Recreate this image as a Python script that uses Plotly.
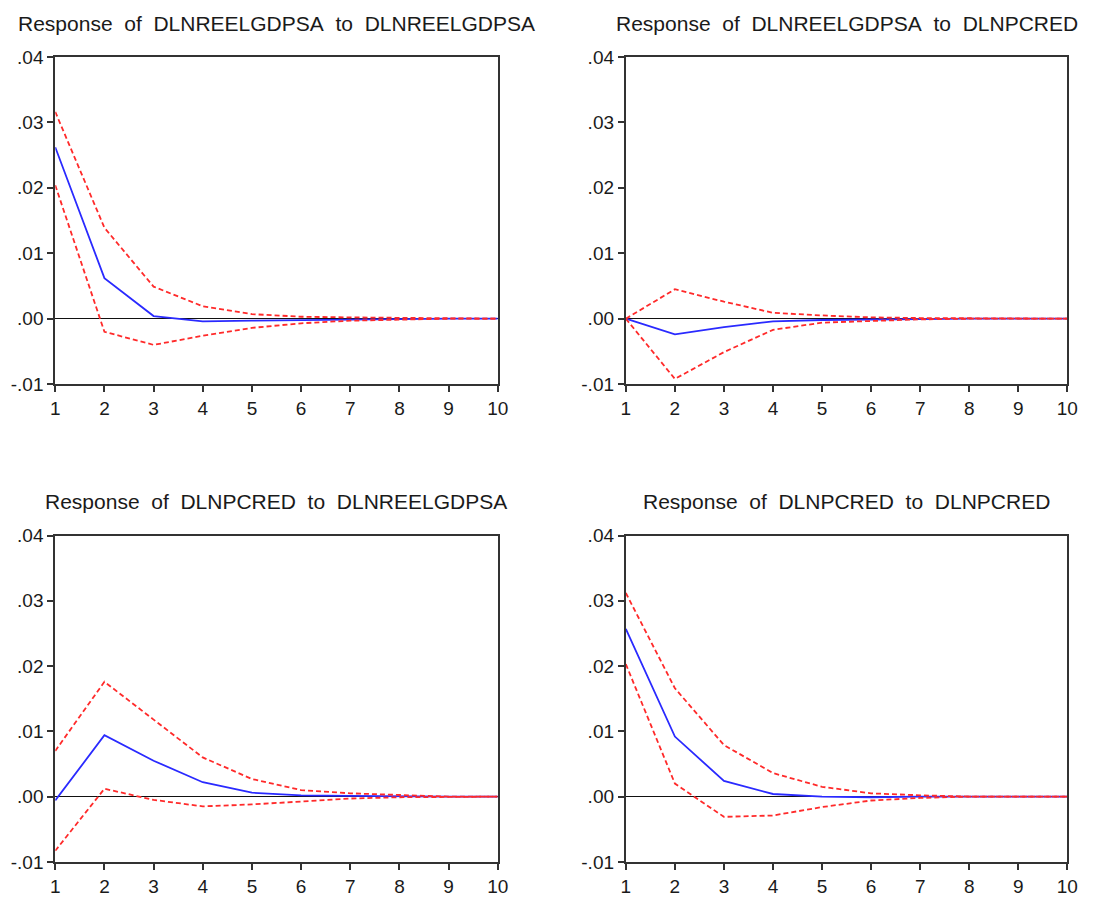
import plotly.graph_objects as go

# ---------------- data ----------------
periods = [1, 2, 3, 4, 5, 6, 7, 8, 9, 10]
x_tick_text = ["1", "2", "3", "4", "5", "6", "7", "8", "9", "10"]
y_tick_vals = [-0.01, 0.0, 0.01, 0.02, 0.03, 0.04]
y_tick_text = ["-.01", ".00", ".01", ".02", ".03", ".04"]

titles = [
    "Response of DLNREELGDPSA to DLNREELGDPSA",
    "Response of DLNREELGDPSA to DLNPCRED",
    "Response of DLNPCRED to DLNREELGDPSA",
    "Response of DLNPCRED to DLNPCRED",
]

gdp_gdp_resp = [0.0262, 0.0062, 0.0004, -0.0004, -0.0003, -0.0002, -0.0001, 0.0, 0.0, 0.0]
gdp_gdp_upper = [0.0316, 0.0139, 0.0049, 0.0019, 0.0007, 0.0003, 0.0002, 0.0001, 0.0, 0.0]
gdp_gdp_lower = [0.0204, -0.0020, -0.0040, -0.0026, -0.0014, -0.0007, -0.0003, -0.0001, 0.0, 0.0]

gdp_cred_resp = [0.0, -0.0024, -0.0013, -0.0004, -0.0002, -0.0001, 0.0, 0.0, 0.0, 0.0]
gdp_cred_upper = [0.0, 0.0045, 0.0026, 0.0009, 0.0005, 0.0002, 0.0001, 0.0001, 0.0, 0.0]
gdp_cred_lower = [0.0, -0.0092, -0.0051, -0.0017, -0.0006, -0.0003, -0.0001, 0.0, 0.0, 0.0]

cred_gdp_resp = [-0.0006, 0.0094, 0.0055, 0.0022, 0.0006, 0.0002, 0.0001, 0.0, 0.0, 0.0]
cred_gdp_upper = [0.0070, 0.0176, 0.0118, 0.0060, 0.0027, 0.0010, 0.0005, 0.0002, 0.0, 0.0]
cred_gdp_lower = [-0.0083, 0.0012, -0.0005, -0.0015, -0.0012, -0.0007, -0.0003, -0.0001, 0.0, 0.0]

cred_cred_resp = [0.0257, 0.0092, 0.0024, 0.0004, 0.0, -0.0001, 0.0, 0.0, 0.0, 0.0]
cred_cred_upper = [0.0312, 0.0166, 0.0079, 0.0036, 0.0015, 0.0005, 0.0002, 0.0, 0.0, 0.0]
cred_cred_lower = [0.0203, 0.0020, -0.0031, -0.0029, -0.0016, -0.0006, -0.0002, 0.0, 0.0, 0.0]

panels = [
    (gdp_gdp_resp, gdp_gdp_upper, gdp_gdp_lower),
    (gdp_cred_resp, gdp_cred_upper, gdp_cred_lower),
    (cred_gdp_resp, cred_gdp_upper, cred_gdp_lower),
    (cred_cred_resp, cred_cred_upper, cred_cred_lower),
]

# ---------------- layout geometry ----------------
W, H = 1101, 909
x_domains = [[51 / W, 500 / W], [630 / W, 1078 / W]]
y_domains = [[1 - 383 / H, 1 - 48 / H], [1 - 872 / H, 1 - 538 / H]]
title_y = [1 - 14 / H, 1 - 503 / H]

BLUE = "#2a2aff"
RED = "#ff2a2a"
AXIS = "#333333"
FONT = "Liberation Sans, Arial, sans-serif"
SP = "\u00a0\u00a0"

fig = go.Figure()
layout = dict(
    width=W, height=H,
    margin=dict(l=0, r=0, t=0, b=0),
    paper_bgcolor="white", plot_bgcolor="white",
    showlegend=False,
    font=dict(family=FONT, color="#1a1a1a"),
    annotations=[],
)

for i, (resp, up, lo) in enumerate(panels):
    r, c = divmod(i, 2)
    n = i + 1
    xa = "x" if n == 1 else f"x{n}"
    ya = "y" if n == 1 else f"y{n}"
    for series, color, dash in ((resp, BLUE, "solid"), (up, RED, "5px,3px"), (lo, RED, "5px,3px")):
        fig.add_trace(go.Scatter(
            x=periods, y=series, mode="lines",
            line=dict(color=color, width=1.8, dash=dash),
            xaxis=xa, yaxis=ya, hoverinfo="skip",
        ))
    xkey = "xaxis" if n == 1 else f"xaxis{n}"
    ykey = "yaxis" if n == 1 else f"yaxis{n}"
    layout[xkey] = dict(
        domain=x_domains[c], anchor=ya, range=[1, 10],
        tickmode="array", tickvals=periods, ticktext=x_tick_text,
        ticks="outside", ticklen=6, tickwidth=1.5, tickcolor=AXIS,
        showline=True, linecolor=AXIS, linewidth=2, mirror=True,
        showgrid=False, zeroline=False,
        tickfont=dict(size=19, family=FONT, color="#1a1a1a"),
    )
    layout[ykey] = dict(
        domain=y_domains[r], anchor=xa, range=[-0.01, 0.04],
        tickmode="array", tickvals=y_tick_vals, ticktext=y_tick_text,
        ticks="outside", ticklen=6, tickwidth=1.5, tickcolor=AXIS,
        showline=True, linecolor=AXIS, linewidth=2, mirror=True,
        showgrid=False, zeroline=True, zerolinecolor="#111111", zerolinewidth=1.2,
        tickfont=dict(size=19, family=FONT, color="#1a1a1a"),
    )
    layout["annotations"].append(dict(
        text=titles[i].replace(" ", SP), xref="paper", yref="paper",
        x=sum(x_domains[c]) / 2, y=title_y[r],
        xanchor="center", yanchor="middle", showarrow=False,
        font=dict(size=21, family=FONT, color="#1a1a1a"),
    ))

fig.update_layout(**layout)
fig.write_html("out.html")
